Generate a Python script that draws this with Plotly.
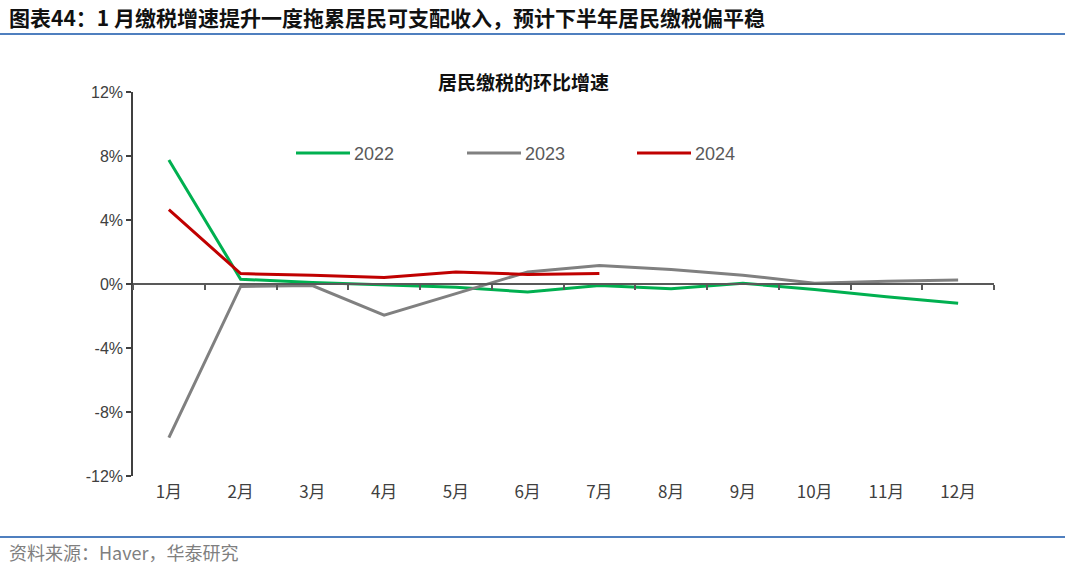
import plotly.graph_objects as go

months = ["1月", "2月", "3月", "4月", "5月", "6月", "7月", "8月", "9月", "10月", "11月", "12月"]
s2022 = [7.75, 0.3, 0.1, -0.05, -0.2, -0.5, -0.1, -0.3, 0.05, -0.35, -0.8, -1.2]
s2023 = [-9.6, -0.15, -0.1, -1.95, -0.6, 0.75, 1.15, 0.9, 0.55, 0.05, 0.17, 0.25]
s2024 = [4.65, 0.65, 0.55, 0.4, 0.75, 0.6, 0.65]
yticks = [-12, -8, -4, 0, 4, 8, 12]
ytick_labels = ["-12%", "-8%", "-4%", "0%", "4%", "8%", "12%"]
series_names = ["2022", "2023", "2024"]
colors = ["#00B050", "#808080", "#C00000"]

FONT = "Liberation Sans, Arial, Noto Sans CJK SC"
CJK = "Noto Sans CJK SC"

PL, PT, PW, PH = 133, 92, 861, 384
def px(x):
    return (x - PL) / PW
def py(y):
    return 1 - (y - PT) / PH

fig = go.Figure()
for name, vals, c in zip(series_names, [s2022, s2023, s2024], colors):
    fig.add_trace(go.Scatter(x=months[:len(vals)], y=vals, mode="lines", name=name,
                             line=dict(color=c, width=3), showlegend=False))
# invisible trace for the crossing axis at y=0
fig.add_trace(go.Scatter(x=months, y=[None] * 12, xaxis="x2", showlegend=False,
                         hoverinfo="skip"))

fig.update_layout(
    width=1080, height=565,
    margin=dict(l=PL, r=1080 - PL - PW, t=PT, b=565 - PT - PH),
    paper_bgcolor="white", plot_bgcolor="white",
    font=dict(family=FONT, size=15, color="#595959"),
    showlegend=False,
    xaxis=dict(type="category", categoryorder="array", categoryarray=months,
               range=[-0.5, 11.5], showline=False, ticks="", showgrid=False,
               tickfont=dict(family=CJK, size=17, color="#404040"), ticklabelstandoff=4),
    xaxis2=dict(type="category", categoryorder="array", categoryarray=months,
                range=[-0.5, 11.5], overlaying="x", anchor="free", position=0.5,
                side="bottom", showline=True, linecolor="#595959", linewidth=1.5,
                ticks="outside", tickson="boundaries", ticklen=5, tickcolor="#595959",
                tickwidth=1.5, showticklabels=False, showgrid=False),
    yaxis=dict(range=[-12, 12], tickvals=yticks, ticktext=ytick_labels,
               showline=True, linecolor="#404040", linewidth=1.5,
               ticks="outside", ticklen=5, tickcolor="#404040", tickwidth=1.5,
               showgrid=False, zeroline=False,
               tickfont=dict(family=FONT, size=16, color="#404040")),
)

# manual legend
leg_x = [296, 467, 637]
for name, c, lx in zip(series_names, colors, leg_x):
    fig.add_shape(type="line", xref="paper", yref="paper",
                  x0=px(lx), x1=px(lx + 54), y0=py(153), y1=py(153),
                  line=dict(color=c, width=3))
    fig.add_annotation(text=name, xref="paper", yref="paper", x=px(lx + 56), y=py(154),
                       xanchor="left", yanchor="middle", showarrow=False,
                       font=dict(family=FONT, size=18, color="#595959"))

# header
fig.add_annotation(text="<b>图表44：1 月缴税增速提升一度拖累居民可支配收入，预计下半年居民缴税偏平稳</b>",
                   xref="paper", yref="paper", x=px(7), y=py(17),
                   xanchor="left", yanchor="middle", showarrow=False,
                   font=dict(family=CJK, size=21, color="#111111"))
fig.add_shape(type="line", xref="paper", yref="paper",
              x0=px(0), x1=px(1065), y0=py(34), y1=py(34),
              line=dict(color="#4F7FBF", width=2))
# chart title
fig.add_annotation(text="<b>居民缴税的环比增速</b>", xref="paper", yref="paper",
                   x=px(523), y=py(82), xanchor="center", yanchor="middle",
                   showarrow=False, font=dict(family=CJK, size=19, color="#111111"))
# footer
fig.add_shape(type="line", xref="paper", yref="paper",
              x0=px(0), x1=px(1065), y0=py(537), y1=py(537),
              line=dict(color="#4F7FBF", width=2))
fig.add_annotation(text="资料来源：Haver，华泰研究", xref="paper", yref="paper",
                   x=px(7), y=py(552), xanchor="left", yanchor="middle",
                   showarrow=False, font=dict(family=CJK, size=18, color="#7F7F7F"))

fig.write_html("out.html")
